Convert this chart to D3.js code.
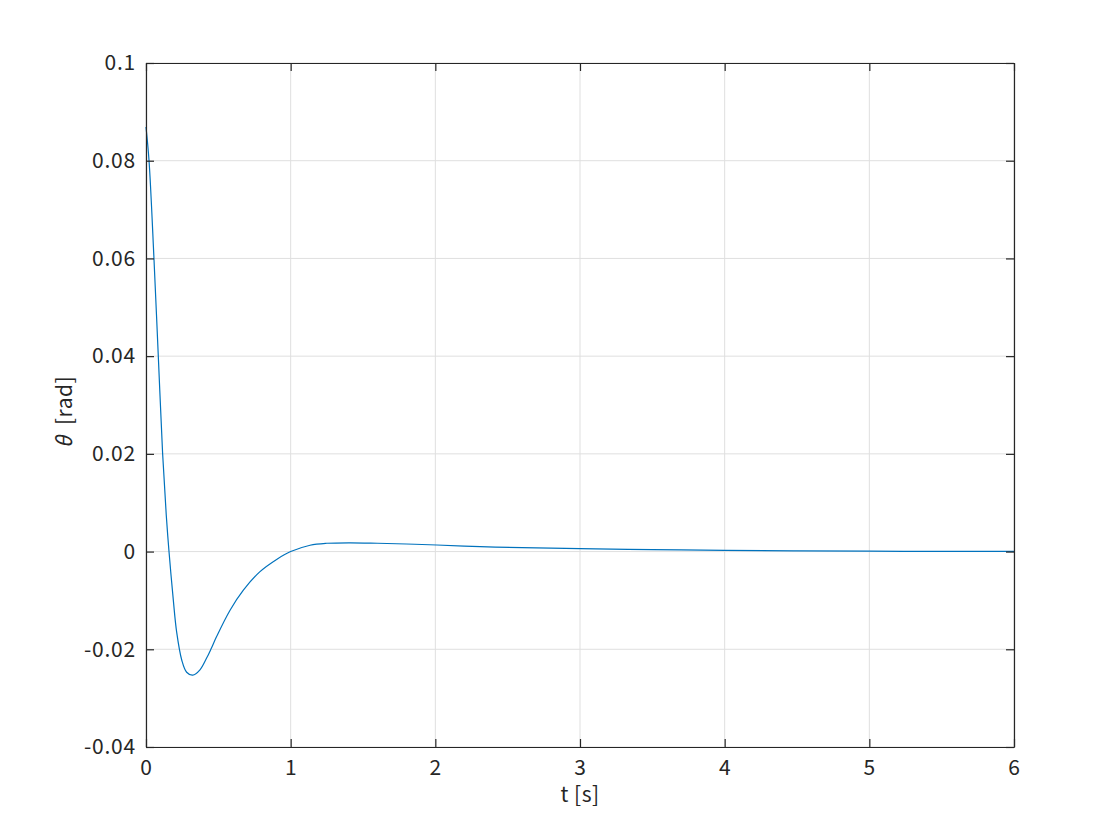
<!DOCTYPE html>
<html>
<head>
<meta charset="utf-8">
<script src="https://cdn.jsdelivr.net/npm/d3@7"></script>
<style>
	body { margin: 0; background: #fff; }
	text { font-family: "Noto Sans CJK JP", "Noto Sans", sans-serif; fill: #262626; }
</style>
</head>
<body>
<svg id="chart" width="1120" height="840"></svg>
<script>
// values
var tValues = [0, 0.021, 0.055, 0.085, 0.115, 0.140, 0.159, 0.189, 0.212, 0.247, 0.281, 0.323,
	0.373, 0.419, 0.45, 0.488, 0.581, 0.673, 0.788, 0.903, 1.0, 1.134, 1.25, 1.41, 1.6, 1.8, 2.01, 2.31,
	2.6, 3.0, 3.5, 4.0, 4.5, 5.0, 5.5, 6.0];
var thetaValues = [0.0869, 0.08, 0.06, 0.04, 0.02, 0.0075, 0, -0.0100, -0.0165, -0.0222, -0.0247, -0.0253,
	-0.0242, -0.0218, -0.0199, -0.0174, -0.0120, -0.0079, -0.0041, -0.0016, 0, 0.0013, 0.0017, 0.0018, 0.0017, 0.00155, 0.00135, 0.0010,
	0.0008, 0.0006, 0.0004, 0.00025, 0.00015, 0.00008, 0.00004, 0.00002];
var xTicks = [0, 1, 2, 3, 4, 5, 6];
var yTicks = [-0.04, -0.02, 0, 0.02, 0.04, 0.06, 0.08, 0.1];
var yTickLabels = ["-0.04", "-0.02", "0", "0.02", "0.04", "0.06", "0.08", "0.1"];

var margin = {left: 146, right: 106, top: 63, bottom: 93};
var width = 1120 - margin.left - margin.right;
var height = 840 - margin.top - margin.bottom;

var svg = d3.select("#chart");
var g = svg.append("g").attr("transform", "translate(" + margin.left + "," + margin.top + ")");

var x = d3.scaleLinear().domain([0, 6]).range([0, width]);
var y = d3.scaleLinear().domain([-0.04, 0.1]).range([height, 0]);

// grid
g.selectAll(".gx").data(xTicks).enter().append("line")
	.attr("x1", function(d) { return x(d); }).attr("x2", function(d) { return x(d); })
	.attr("y1", 0).attr("y2", height)
	.attr("stroke", "#dfdfdf").attr("stroke-width", 1);
g.selectAll(".gy").data(yTicks).enter().append("line")
	.attr("y1", function(d) { return y(d); }).attr("y2", function(d) { return y(d); })
	.attr("x1", 0).attr("x2", width)
	.attr("stroke", "#dfdfdf").attr("stroke-width", 1);

// curve
var points = tValues.map(function(t, i) { return [t, thetaValues[i]]; });
var line = d3.line()
	.x(function(d) { return x(d[0]); })
	.y(function(d) { return y(d[1]); })
	.curve(d3.curveCatmullRom.alpha(0.5));
g.append("path").datum(points)
	.attr("d", line)
	.attr("fill", "none")
	.attr("stroke", "#0072BD")
	.attr("stroke-width", 1.2);

// axes, ticks inward on all four sides
var tickLen = 8;
var axBottom = g.append("g").attr("transform", "translate(0," + height + ")")
	.call(d3.axisBottom(x).tickValues(xTicks).tickSizeInner(-tickLen).tickSizeOuter(0).tickPadding(13).tickFormat(d3.format("d")));
var axTop = g.append("g")
	.call(d3.axisTop(x).tickValues(xTicks).tickSizeInner(-tickLen).tickSizeOuter(0).tickFormat(""));
var axLeft = g.append("g")
	.call(d3.axisLeft(y).tickValues(yTicks).tickSizeInner(-tickLen).tickSizeOuter(0).tickPadding(10)
		.tickFormat(function(d, i) { return yTickLabels[i]; }));
var axRight = g.append("g").attr("transform", "translate(" + width + ",0)")
	.call(d3.axisRight(y).tickValues(yTicks).tickSizeInner(-tickLen).tickSizeOuter(0).tickFormat(""));

[axBottom, axTop, axLeft, axRight].forEach(function(a) {
	a.select(".domain").attr("stroke", "#262626").attr("stroke-width", 1.2);
	a.selectAll(".tick line").attr("stroke", "#262626").attr("stroke-width", 1.2);
	a.selectAll(".tick text").attr("font-size", 21).attr("letter-spacing", 0.8)
		.style("font-family", '"Noto Sans CJK JP", "Noto Sans", sans-serif').attr("fill", "#262626");
});

// axis labels
g.append("text")
	.attr("x", width / 2).attr("y", height + 55)
	.attr("text-anchor", "middle").attr("font-size", 21).attr("letter-spacing", 0.5)
	.text("t [s]");

var yl = g.append("text")
	.attr("transform", "translate(-74," + (height / 2 + 7) + ") rotate(-90)")
	.attr("text-anchor", "middle").attr("font-size", 21).attr("letter-spacing", 0.5);
yl.append("tspan").attr("font-style", "italic").text("θ");
yl.append("tspan").attr("xml:space", "preserve").text("  [rad]");
</script>
</body>
</html>
